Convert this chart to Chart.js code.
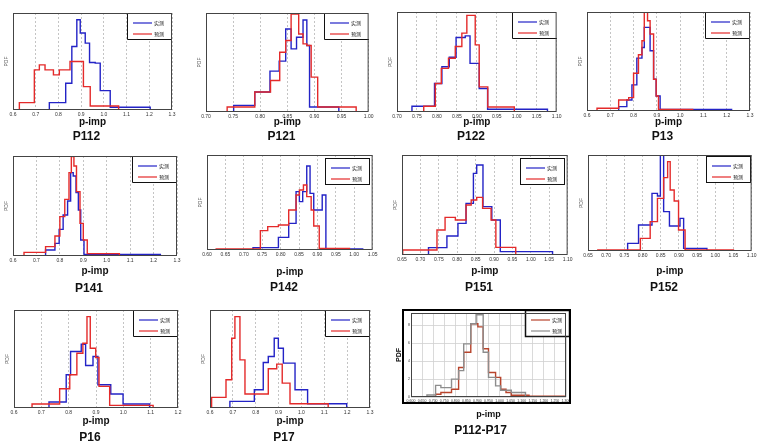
<!DOCTYPE html>
<html>
<head>
<meta charset="utf-8">
<script src="https://cdn.jsdelivr.net/npm/chart.js@4.4.1/dist/chart.umd.min.js"></script>
<style>
  body { margin: 0; background: #fff; width: 763px; height: 448px; position: relative; overflow: hidden; }
  canvas { position: absolute; }
</style>
</head>
<body>
<script>
// series names (legend), blue/brown = first, red/grey = second
const seriesNames = ["实测", "预测"];

// x tick values per axis style
const ticksWide = [0.6, 0.7, 0.8, 0.9, 1.0, 1.1, 1.2, 1.3];
const ticksP16 = [0.6, 0.7, 0.8, 0.9, 1.0, 1.1, 1.2];
const ticksP121 = [0.70, 0.75, 0.80, 0.85, 0.90, 0.95, 1.00];
const ticksP122 = [0.70, 0.75, 0.80, 0.85, 0.90, 0.95, 1.00, 1.05, 1.10];
const ticksP142 = [0.60, 0.65, 0.70, 0.75, 0.80, 0.85, 0.90, 0.95, 1.00, 1.05];
const ticksP151 = [0.65, 0.70, 0.75, 0.80, 0.85, 0.90, 0.95, 1.00, 1.05, 1.10];
const ticksAll = [0.60, 0.65, 0.70, 0.75, 0.80, 0.85, 0.90, 0.95, 1.00, 1.05, 1.10, 1.15, 1.20, 1.25, 1.30];
const yTicksAll = [0, 2, 4, 6, 8];

// histogram bin edges (x) and relative densities (y)
const p112BlueX = [0.760, 0.832, 0.859, 0.881, 0.896, 0.918, 0.937, 0.962, 0.984, 1.028, 1.204];
const p112BlueY = [22, 80, 190, 270, 230, 200, 142, 140, 58, 8];
const p112RedX = [0.628, 0.694, 0.716, 0.741, 0.778, 0.804, 0.851, 0.910, 0.940, 1.065];
const p112RedY = [22, 120, 135, 120, 105, 120, 145, 70, 12];

const p121BlueX = [0.751, 0.790, 0.818, 0.835, 0.847, 0.857, 0.867, 0.879, 0.886, 0.891, 0.945];
const p121BlueY = [20, 60, 123, 153, 250, 190, 225, 277, 200, 15];
const p121RedX = [0.739, 0.790, 0.819, 0.836, 0.847, 0.857, 0.871, 0.879, 0.886, 0.894, 0.906, 0.977];
const p121RedY = [15, 60, 95, 180, 215, 295, 235, 205, 200, 105, 15];

const p122BlueX = [0.7375, 0.794, 0.8125, 0.831, 0.848, 0.871, 0.883, 0.906, 0.927, 1.077];
const p122BlueY = [17, 85, 135, 163, 222, 227, 145, 70, 8];
const p122RedX = [0.767, 0.796, 0.811, 0.829, 0.846, 0.8625, 0.875, 0.896, 0.906, 0.9275, 0.994];
const p122RedY = [17, 85, 130, 160, 195, 235, 288, 200, 75, 15];

const p13BlueX = [0.736, 0.771, 0.793, 0.814, 0.836, 0.846, 0.871, 0.886, 0.897, 0.914, 1.221];
const p13BlueY = [13, 33, 78, 158, 190, 250, 180, 95, 45, 5];
const p13RedX = [0.643, 0.736, 0.779, 0.800, 0.821, 0.836, 0.846, 0.860, 0.871, 0.886, 0.897, 0.907, 1.054];
const p13RedY = [8, 33, 40, 113, 168, 210, 296, 270, 230, 95, 45, 5];

const p141BlueX = [0.739, 0.779, 0.797, 0.814, 0.833, 0.846, 0.857, 0.869, 0.879, 0.889, 0.903, 1.229];
const p141BlueY = [18, 38, 80, 123, 165, 250, 240, 190, 138, 48, 5];
const p141RedX = [0.647, 0.739, 0.779, 0.800, 0.821, 0.839, 0.849, 0.860, 0.871, 0.886, 0.900, 0.917, 1.054];
const p141RedY = [11, 28, 60, 118, 170, 250, 298, 270, 193, 98, 48, 7];

const p142BlueX = [0.725, 0.794, 0.822, 0.842, 0.851, 0.860, 0.871, 0.880, 0.890, 0.913, 0.923, 1.023];
const p142BlueY = [7, 38, 80, 175, 145, 175, 252, 170, 120, 165, 3];
const p142RedX = [0.625, 0.745, 0.765, 0.794, 0.822, 0.842, 0.851, 0.862, 0.871, 0.883, 0.890, 0.905, 0.987];
const p142RedY = [3, 58, 70, 75, 120, 165, 180, 195, 160, 120, 72, 5];

const p151BlueX = [0.722, 0.772, 0.802, 0.824, 0.844, 0.853, 0.870, 0.894, 0.917, 1.059];
const p151BlueY = [22, 57, 95, 155, 245, 270, 145, 105, 10];
const p151RedX = [0.652, 0.745, 0.767, 0.795, 0.824, 0.838, 0.853, 0.869, 0.892, 0.905, 0.959];
const p151RedY = [15, 75, 113, 105, 150, 165, 173, 140, 105, 23];

const p152BlueX = [0.759, 0.789, 0.826, 0.841, 0.849, 0.858, 0.874, 0.903, 0.913, 0.977];
const p152BlueY = [23, 78, 173, 165, 288, 118, 75, 98, 8];
const p152RedX = [0.677, 0.794, 0.821, 0.841, 0.858, 0.869, 0.876, 0.887, 0.899, 0.917, 1.050];
const p152RedY = [3, 38, 88, 158, 220, 268, 183, 150, 63, 3];

const p16BlueX = [0.728, 0.791, 0.807, 0.846, 0.862, 0.889, 0.907, 0.954, 0.999, 1.096];
const p16BlueY = [18, 100, 170, 192, 128, 155, 70, 42, 12];
const p16RedX = [0.666, 0.767, 0.804, 0.830, 0.852, 0.867, 0.879, 0.899, 0.911, 0.950, 1.109];
const p16RedY = [12, 58, 100, 165, 195, 275, 180, 152, 65, 8];

const p17BlueX = [0.687, 0.794, 0.833, 0.855, 0.881, 0.899, 0.921, 0.972, 1.027, 1.198];
const p17BlueY = [20, 55, 137, 155, 210, 180, 135, 55, 13];
const p17RedX = [0.607, 0.670, 0.695, 0.709, 0.731, 0.753, 0.855, 0.892, 0.916, 0.950, 1.117];
const p17RedY = [32, 85, 210, 275, 145, 42, 118, 132, 75, 13];

const allMeasX = [0.608, 0.711, 0.735, 0.783, 0.815, 0.838, 0.870, 0.902, 0.926, 0.950, 0.982, 1.005, 1.029, 1.053, 1.133, 1.292];
const allMeasY = [0.04, 0.3, 0.5, 0.87, 3.3, 5.0, 8.2, 7.85, 5.4, 2.75, 2.2, 0.87, 0.5, 0.2, 0.08];
const allPredX = [0.608, 0.672, 0.711, 0.735, 0.783, 0.815, 0.838, 0.870, 0.894, 0.926, 0.950, 0.982, 1.005, 1.053, 1.117, 1.292];
const allPredY = [0.04, 0.23, 1.3, 1.05, 2.0, 2.95, 5.95, 8.2, 9.2, 5.0, 2.2, 1.25, 0.75, 0.5, 0.04];

// panel layout: plot box [left, top, right, bottom] in page px
const panels = [
  { name: "P112", box: [13, 13, 172, 110], pimpY: 122, titleY: 137, ticks: ticksWide, dec: 1, yMax: 290, a: [p112BlueX, p112BlueY], b: [p112RedX, p112RedY] },
  { name: "P121", box: [206, 13, 369, 112], pimpY: 122, titleY: 137, ticks: ticksP121, dec: 2, yMax: 298, a: [p121BlueX, p121BlueY], b: [p121RedX, p121RedY] },
  { name: "P122", box: [397, 12, 557, 112], pimpY: 122, titleY: 137, ticks: ticksP122, dec: 2, yMax: 298, a: [p122BlueX, p122BlueY], b: [p122RedX, p122RedY] },
  { name: "P13", box: [587, 12, 750, 111], pimpY: 122, titleY: 137, ticks: ticksWide, dec: 1, yMax: 296, a: [p13BlueX, p13BlueY], b: [p13RedX, p13RedY] },
  { name: "P141", box: [13, 156, 177, 256], pimpY: 271, titleY: 289, ticks: ticksWide, dec: 1, yMax: 300, a: [p141BlueX, p141BlueY], b: [p141RedX, p141RedY] },
  { name: "P142", box: [207, 155, 373, 250], pimpY: 272, titleY: 288, ticks: ticksP142, dec: 2, yMax: 285, a: [p142BlueX, p142BlueY], b: [p142RedX, p142RedY], inset: 3 },
  { name: "P151", box: [402, 155, 568, 255], pimpY: 271, titleY: 288, ticks: ticksP151, dec: 2, yMax: 300, a: [p151BlueX, p151BlueY], b: [p151RedX, p151RedY], inset: 3 },
  { name: "P152", box: [588, 155, 752, 251], pimpY: 271, titleY: 288, ticks: ticksP151, dec: 2, yMax: 288, a: [p152BlueX, p152BlueY], b: [p152RedX, p152RedY], inset: 1 },
  { name: "P16", box: [14, 310, 178, 408], pimpY: 421, titleY: 438, ticks: ticksP16, dec: 1, yMax: 295, a: [p16BlueX, p16BlueY], b: [p16RedX, p16RedY] },
  { name: "P17", box: [210, 310, 370, 408], pimpY: 421, titleY: 438, ticks: ticksWide, dec: 1, yMax: 295, a: [p17BlueX, p17BlueY], b: [p17RedX, p17RedY] },
  { name: "P112-P17", box: [411, 313, 566, 397], pimpY: 415, titleY: 431, ticks: ticksAll, dec: 3, yMax: 9.4, a: [allMeasX, allMeasY], b: [allPredX, allPredY], combined: true }
];

Chart.defaults.font.family = '"Liberation Sans", Arial, sans-serif';
Chart.defaults.animation = false;

// step outline of a histogram, closed down to the baseline at both ends
function steps(edges, dens) {
  const pts = [{ x: edges[0], y: 0 }];
  dens.forEach((d, i) => pts.push({ x: edges[i], y: d }));
  pts.push({ x: edges[edges.length - 1], y: dens[dens.length - 1] });
  pts.push({ x: edges[edges.length - 1], y: 0 });
  return pts;
}

// small legend box in the top-right corner, then the plot frame over it
const panelDeco = {
  id: "panelDeco",
  afterDatasetsDraw(chart, args, opts) {
    const { ctx, chartArea: a } = chart;
    ctx.save();
    const w = 45, h = 27, inset = opts.inset || 0;
    const x = Math.round(a.right + (opts.combined ? 4 : 0) - w - inset);
    const y = Math.round(a.top - (opts.combined ? 3 : 0) + inset);
    ctx.fillStyle = "#fff";
    ctx.fillRect(x, y, w, h);
    ctx.strokeStyle = "#111";
    ctx.lineWidth = opts.combined ? 1.5 : 1;
    if (inset || opts.combined) {
      ctx.strokeRect(x + 0.5, y + 0.5, w - 1, h - 1);
    } else {
      ctx.beginPath();
      ctx.moveTo(x + 0.5, y);
      ctx.lineTo(x + 0.5, y + h - 0.5);
      ctx.lineTo(x + w, y + h - 0.5);
      ctx.stroke();
    }
    chart.data.datasets.forEach((ds, i) => {
      const ly = y + 10 + i * 11;
      ctx.strokeStyle = ds.borderColor;
      ctx.lineWidth = 1.2;
      ctx.beginPath();
      ctx.moveTo(x + 6, ly);
      ctx.lineTo(x + 25, ly);
      ctx.stroke();
      ctx.fillStyle = "#222";
      ctx.font = '5px "Noto Sans CJK SC"';
      ctx.textBaseline = "middle";
      ctx.fillText(ds.label, x + 27, ly);
    });

    ctx.strokeStyle = "#444";
    ctx.lineWidth = 1;
    ctx.strokeRect(a.left + 0.5, a.top + 0.5, a.width - 1, a.height - 1);
    if (opts.combined) {
      ctx.strokeStyle = "#000";
      ctx.lineWidth = 2;
      ctx.strokeRect(a.left - 8, a.top - 3, a.width + 12, a.height + 9);
    }
    ctx.restore();
  }
};

function makePanel(p) {
  const [l, t, r, b] = p.box;
  const yW = p.combined ? 16 : 12;
  const padTop = 4, padRight = 6;
  const pimpSize = p.combined ? 9 : 10;
  const axisH = p.pimpY - b + pimpSize * 1.2 / 2;
  const titleLh = 12 * 1.2;
  const titlePad = Math.max(0, p.titleY - titleLh / 2 - (b + axisH));
  const exactH = padTop + (b - t) + axisH + titlePad + titleLh;
  const h = Math.ceil(exactH) + 1;
  const w = (r - l) + yW + padRight;

  const canvas = document.createElement("canvas");
  canvas.width = w;
  canvas.height = h;
  canvas.style.left = (l - yW) + "px";
  canvas.style.top = (t - padTop) + "px";
  canvas.style.width = w + "px";
  canvas.style.height = h + "px";
  document.body.appendChild(canvas);

  const colA = p.combined ? "#b8442c" : "#2323c6";
  const colB = p.combined ? "#8d8d8d" : "#e42a2a";

  new Chart(canvas, {
    type: "line",
    data: {
      datasets: [
        { label: seriesNames[0], data: steps(p.a[0], p.a[1]), borderColor: colA, borderWidth: 1.4, stepped: true, pointRadius: 0, fill: false, order: 2 },
        { label: seriesNames[1], data: steps(p.b[0], p.b[1]), borderColor: colB, borderWidth: 1.4, stepped: true, pointRadius: 0, fill: false, order: 1 }
      ]
    },
    options: {
      responsive: false,
      devicePixelRatio: 1,
      layout: { padding: { top: padTop, right: padRight, left: 0, bottom: h - exactH } },
      scales: {
        x: {
          type: "linear",
          min: p.ticks[0],
          max: p.ticks[p.ticks.length - 1],
          afterBuildTicks: (s) => { s.ticks = p.ticks.map((v) => ({ value: v })); },
          afterFit: (s) => { s.height = axisH; },
          ticks: {
            autoSkip: false, maxRotation: 0, padding: 1.5, color: "#333",
            font: { size: p.combined ? 3.5 : 5 },
            callback: (v) => Number(v).toFixed(p.dec)
          },
          grid: { color: p.combined ? "#d0d0d0" : "#b5b5b5", drawTicks: false, lineWidth: 0.8 },
          border: { display: false, dash: p.combined ? [] : [2, 2] },
          title: { display: true, text: "p-imp", color: "#111", padding: 0, font: { size: pimpSize, weight: "bold" } }
        },
        y: {
          min: 0,
          max: p.yMax,
          afterBuildTicks: (s) => { if (p.combined) s.ticks = yTicksAll.map((v) => ({ value: v })); },
          afterFit: (s) => { s.width = yW; },
          ticks: { display: !!p.combined, padding: 1, color: "#333", font: { size: 3.5 } },
          grid: { display: !!p.combined, color: "#d0d0d0", drawTicks: false, lineWidth: 0.8 },
          border: { display: false },
          title: {
            display: true, text: "PDF", color: p.combined ? "#111" : "#555",
            padding: { top: p.combined ? 0 : 3, bottom: 0 },
            font: { size: p.combined ? 7 : 5, weight: p.combined ? "bold" : "normal" }
          }
        }
      },
      plugins: {
        legend: { display: false },
        tooltip: { enabled: false },
        title: {
          display: true, position: "bottom", text: p.name, color: "#111",
          padding: { top: titlePad, bottom: 0 }, font: { size: 12, weight: "bold" }
        },
        panelDeco: { inset: p.inset || 0, combined: !!p.combined }
      }
    },
    plugins: [panelDeco]
  });
}

panels.forEach(makePanel);
</script>
</body>
</html>
